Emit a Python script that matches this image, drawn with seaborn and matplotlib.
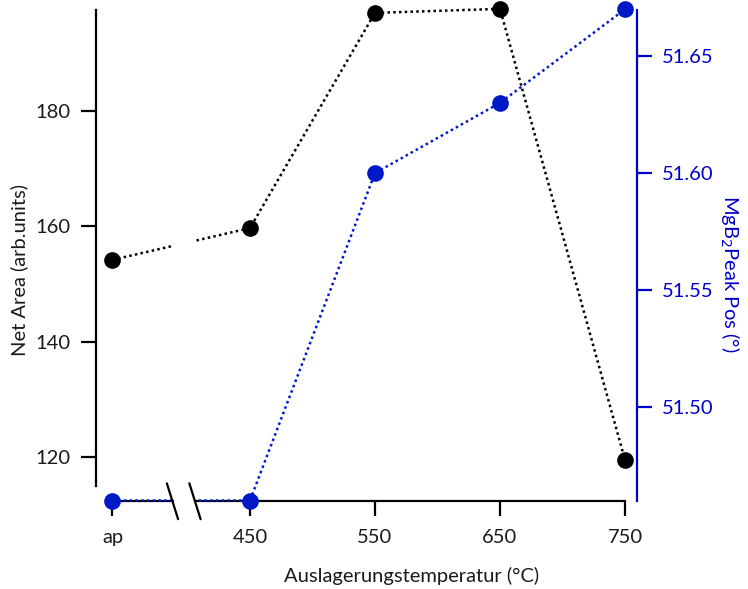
import matplotlib
matplotlib.use("Agg")
import matplotlib.pyplot as plt
import seaborn as sns
import pandas as pd
from matplotlib.patches import Rectangle

# Annealing conditions: "ap" (as prepared) followed by annealing temperatures
categories = ["ap", "450", "550", "650", "750"]
temp_pos = [340, 450, 550, 650, 750]
net_area = [154.2, 159.7, 197.0, 197.7, 119.5]
peak_pos = [51.46, 51.46, 51.60, 51.63, 51.67]

left_ticks = [120, 140, 160, 180]
right_ticks = [51.50, 51.55, 51.60, 51.65]

BLUE = "#0019C8"
AXBLUE = "#0000CC"
FS = 14.5

sns.set_theme(style="white")
plt.rcParams["font.family"] = ["Lato", "DejaVu Sans"]

df = pd.DataFrame({"temp": temp_pos, "label": categories,
                   "area": net_area, "peak": peak_pos})

fig = plt.figure(figsize=(7.48, 5.89), dpi=100)
ax = fig.add_axes([0.1283, 0.1494, 0.7233, 0.8336])
ax2 = ax.twinx()

line_kw = dict(linestyle=(0, (1, 1.3)), linewidth=1.8, marker="o",
               markersize=12, markeredgewidth=0, clip_on=False, zorder=4)

sns.lineplot(data=df, x="temp", y="area", ax=ax, color="black", **line_kw)
sns.lineplot(data=df, x="temp", y="peak", ax=ax2, color=BLUE, **line_kw)

ax.set_xlim(326.8, 759.6)
ax.set_ylim(112.4, 197.5)
ax2.set_ylim(51.4598, 51.6697)

# Left axis
ax.set_yticks(left_ticks)
ax.set_xticks(temp_pos)
ax.set_xticklabels(categories)
ax.spines["left"].set_bounds(115.0, 197.5)
ax.spines["bottom"].set_bounds(temp_pos[0], temp_pos[-1])
for s in ["top", "right"]:
    ax.spines[s].set_visible(False)
for s in ["top", "left", "bottom"]:
    ax2.spines[s].set_visible(False)
ax.spines["left"].set_linewidth(1.6)
ax.spines["bottom"].set_linewidth(1.6)
ax.spines["left"].set_color("black")
ax.spines["bottom"].set_color("black")

ax.tick_params(axis="both", direction="out", length=11, width=1.6,
               color="black", labelsize=FS, labelcolor="#1a1a1a")
ax.tick_params(axis="y", left=True, pad=7)
ax.tick_params(axis="x", bottom=True, pad=9)
ax.set_xlabel("")
ax.set_ylabel("")

# Right axis in blue
ax2.set_yticks(right_ticks)
ax2.set_yticklabels([f"{v:.2f}" for v in right_ticks])
ax2.spines["right"].set_color(AXBLUE)
ax2.spines["right"].set_linewidth(1.6)
ax2.tick_params(axis="y", direction="out", length=11, width=1.6,
                color=AXBLUE, labelcolor=AXBLUE, labelsize=FS, pad=7, right=True)
ax2.set_ylabel("")

ax.grid(False)
ax2.grid(False)

# Axis break between "ap" and 450
ax2.add_patch(Rectangle((389, -0.05), 16.5, 1.1, transform=ax2.get_xaxis_transform(),
                        facecolor="white", edgecolor="none", zorder=10, clip_on=False))
for x0 in (383.5, 401.5):
    ax2.plot([x0, x0 + 9], [0.036, -0.037], transform=ax2.get_xaxis_transform(),
             color="black", linewidth=1.6, clip_on=False, zorder=11)

fig.text(0.55, 0.022, "Auslagerungstemperatur (°C)", ha="center", va="center",
         fontsize=FS, color="#1a1a1a")
fig.text(0.026, 0.542, "Net Area (arb.units)", ha="center", va="center",
         rotation=90, fontsize=FS, color="#1a1a1a")
fig.text(0.975, 0.535, "MgB$_2$Peak Pos (°)", ha="center", va="center",
         rotation=-90, fontsize=FS, color=AXBLUE)

fig.savefig("out.png", dpi=100)
